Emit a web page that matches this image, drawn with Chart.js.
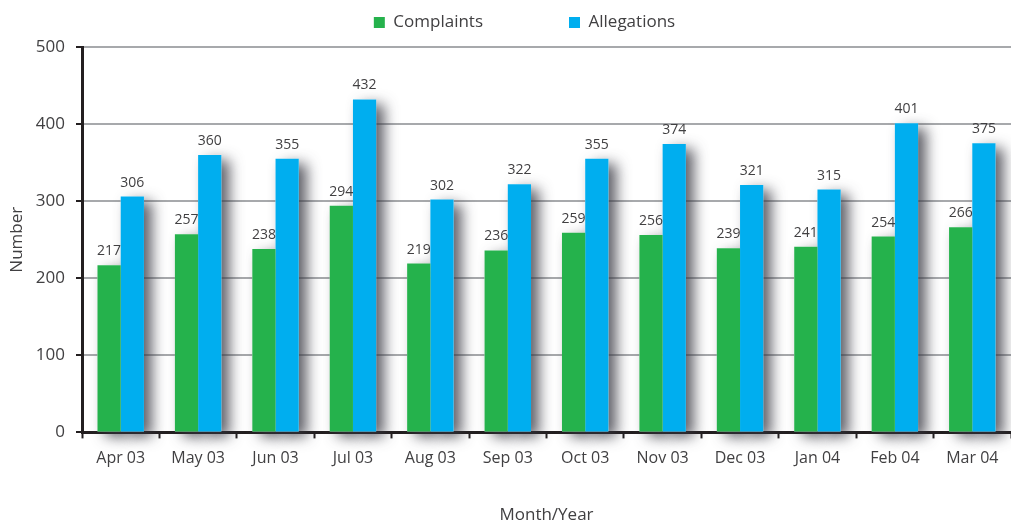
<!DOCTYPE html>
<html>
<head>
<meta charset="utf-8">
<title>Complaints and Allegations</title>
<script src="https://cdn.jsdelivr.net/npm/chart.js@4/dist/chart.umd.min.js"></script>
<style>
    html, body { margin: 0; padding: 0; background: #ffffff; }
    #wrap { position: relative; width: 1011px; height: 527px; }
</style>
</head>
<body>
<div id="wrap"><canvas id="chart"></canvas></div>
<script>
const months = ['Apr 03', 'May 03', 'Jun 03', 'Jul 03', 'Aug 03', 'Sep 03',
                'Oct 03', 'Nov 03', 'Dec 03', 'Jan 04', 'Feb 04', 'Mar 04'];
const complaints = [217, 257, 238, 294, 219, 236, 259, 256, 239, 241, 254, 266];
const allegations = [306, 360, 355, 432, 302, 322, 355, 374, 321, 315, 401, 375];
const yTicks = [0, 100, 200, 300, 400, 500];

const textColor = '#414042';
const fontFamily = "'Open Sans', 'Liberation Sans', sans-serif";

// soft drop shadow painted behind every bar before the bars themselves
const barShadows = {
    id: 'barShadows',
    beforeDatasetsDraw(chart) {
        const ctx = chart.ctx;
        ctx.save();
        ctx.shadowColor = 'rgba(55, 55, 65, 0.8)';
        ctx.shadowBlur = 14;
        ctx.shadowOffsetX = 8;
        ctx.shadowOffsetY = 5;
        ctx.fillStyle = '#ffffff';
        chart.data.datasets.forEach((ds, i) => {
            chart.getDatasetMeta(i).data.forEach(bar => {
                const { x, y, base, width } = bar.getProps(['x', 'y', 'base', 'width'], true);
                ctx.fillRect(x - width / 2, y, width, base - y);
            });
        });
        ctx.restore();
    }
};

// value labels above each bar
const valueLabels = {
    id: 'valueLabels',
    afterDatasetsDraw(chart) {
        const ctx = chart.ctx;
        ctx.save();
        ctx.font = '14px ' + fontFamily;
        ctx.fillStyle = textColor;
        ctx.textAlign = 'center';
        ctx.textBaseline = 'alphabetic';
        chart.data.datasets.forEach((ds, i) => {
            chart.getDatasetMeta(i).data.forEach((bar, j) => {
                ctx.fillText(ds.data[j], bar.x, bar.y - 10);
            });
        });
        ctx.restore();
    }
};

// legend sits a little right of the canvas centre in the original
const legendShift = {
    id: 'legendShift',
    afterLayout(chart) {
        chart.legend.left += 19;
        chart.legend.right += 19;
    }
};

new Chart(document.getElementById('chart'), {
    type: 'bar',
    data: {
        labels: months,
        datasets: [
            { label: 'Complaints', data: complaints, backgroundColor: '#25b24c' },
            { label: 'Allegations', data: allegations, backgroundColor: '#00aeef' }
        ]
    },
    options: {
        responsive: true,
        maintainAspectRatio: false,
        animation: false,
        categoryPercentage: 0.6,
        barPercentage: 1,
        // legend padding is big to spread the two items, so pull it up
        layout: { padding: { top: -72, right: 0, bottom: 0, left: 0 } },
        plugins: {
            tooltip: { enabled: false },
            legend: {
                position: 'top',
                labels: {
                    boxWidth: 11,
                    boxHeight: 11,
                    padding: 86,
                    color: textColor,
                    font: { family: fontFamily, size: 17 }
                }
            },
            // empty spacer between legend and plot
            subtitle: {
                display: true,
                text: '',
                weight: 500,
                padding: { top: 6, bottom: 0 },
                font: { size: 0 }
            }
        },
        scales: {
            x: {
                z: 1,
                grid: {
                    drawOnChartArea: false,
                    tickLength: 6,
                    tickColor: '#231f20',
                    tickWidth: 2
                },
                border: { color: '#231f20', width: 3 },
                ticks: {
                    color: textColor,
                    padding: 10,
                    maxRotation: 0,
                    font: { family: fontFamily, size: 16 }
                },
                title: {
                    display: true,
                    text: 'Month/Year',
                    color: textColor,
                    padding: { top: 27, bottom: 2 },
                    font: { family: fontFamily, size: 17 }
                }
            },
            y: {
                min: 0,
                max: 500,
                afterBuildTicks: scale => { scale.ticks = yTicks.map(v => ({ value: v })); },
                afterFit: scale => { scale.width = 82; },
                grid: {
                    color: '#a7a9ac',
                    lineWidth: 2,
                    tickLength: 6,
                    tickColor: '#231f20',
                    tickWidth: 2
                },
                border: { color: '#231f20', width: 3 },
                ticks: {
                    color: textColor,
                    padding: 11,
                    font: { family: fontFamily, size: 17 }
                },
                title: {
                    display: true,
                    text: 'Number',
                    color: textColor,
                    padding: { top: 7, bottom: 0 },
                    font: { family: fontFamily, size: 17 }
                }
            }
        }
    },
    plugins: [barShadows, valueLabels, legendShift]
});
</script>
</body>
</html>
